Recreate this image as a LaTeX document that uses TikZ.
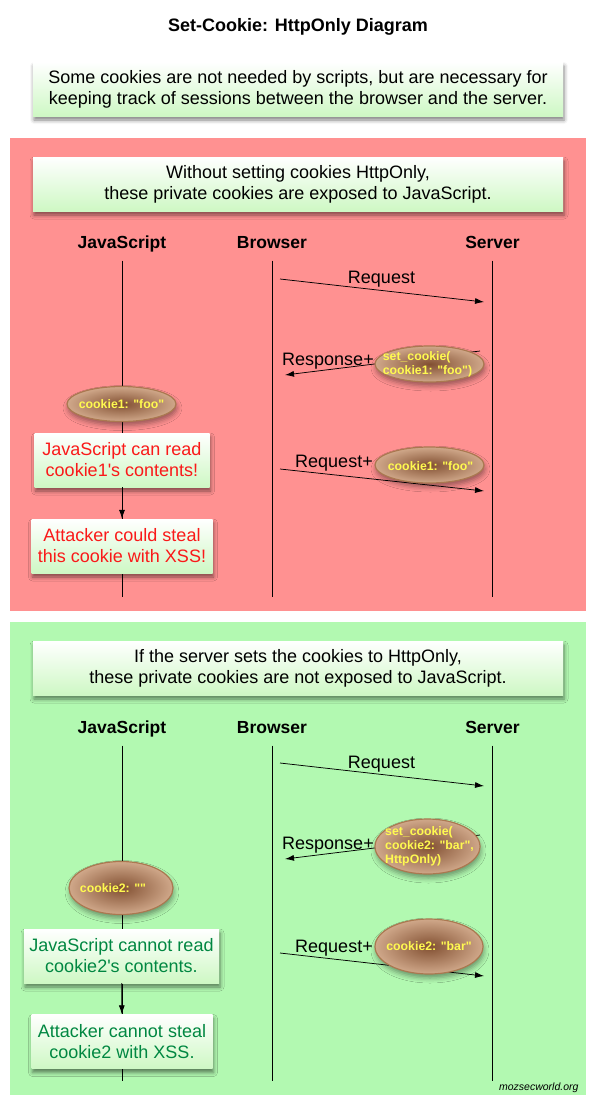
\documentclass[tikz,border=0pt]{standalone}
\usepackage{fontspec}
\setmainfont{Liberation Sans}[Ligatures=TeXOff]
\usetikzlibrary{shapes,arrows.meta,positioning,calc,shadows,shadows.blur}

\definecolor{panelred}{RGB}{255,145,145}
\definecolor{panelgreen}{RGB}{178,249,177}
\definecolor{notegreen}{RGB}{206,248,196}
\definecolor{cookiein}{RGB}{130,80,50}
\definecolor{cookieout}{RGB}{208,168,138}
\definecolor{cookieline}{RGB}{170,120,80}
\definecolor{cookietext}{RGB}{255,250,80}
\definecolor{badred}{RGB}{250,25,25}
\definecolor{goodgreen}{RGB}{0,135,65}

\tikzset{
  note/.style={top color=white, bottom color=notegreen, minimum height=54pt, inner sep=0pt,
    align=center, font=\fontsize{18}{21}\selectfont,
    blur shadow={shadow xshift=1pt, shadow yshift=-4pt, shadow blur radius=4pt, shadow opacity=50}},
  cookie/.style={ellipse, draw=cookieline, line width=1.2pt, inner color=cookiein, outer color=cookieout,
    inner sep=0pt, blur shadow={shadow xshift=1pt, shadow yshift=-4pt, shadow blur radius=5pt, shadow opacity=40}},
  cookietxt/.style={text=cookietext, align=left, inner sep=0pt, font=\bfseries\fontsize{12.3}{14}\selectfont},
  actor/.style={font=\bfseries\fontsize{17.5}{20}\selectfont, anchor=base, text depth=4pt},
  lbl/.style={font=\fontsize{18}{21}\selectfont},
  life/.style={line width=0.75pt, shorten <=5pt},
  msg/.style={line width=0.75pt, -{Latex[length=9pt,width=6pt]}},
}

\begin{document}
\begin{tikzpicture}[x=1pt,y=-1pt]
\useasboundingbox (0,0) rectangle (598,1106);

\node[font=\bfseries\fontsize{18}{21}\selectfont] (title) at (298,27) {Set-Cookie: HttpOnly Diagram};
\node[note, minimum width=530pt] (intro) at (298,89) {Some cookies are not needed by scripts, but are necessary for\\keeping track of sessions between the browser and the server.};

% without HttpOnly
\fill[panelred] (10,138) rectangle (586,611);
\node[note, minimum width=530pt] (warnA) at (298,184) {Without setting cookies HttpOnly,\\these private cookies are exposed to JavaScript.};
\node[actor] (jsA) at (122,248) {JavaScript};
\node[actor] (brA) at (272,248) {Browser};
\node[actor] (svA) at (492.5,248) {Server};
\coordinate (jsAend) at (122,597);
\coordinate (brAend) at (272,597);
\coordinate (svAend) at (492.5,597);
\draw[life] (jsA) -- (jsAend);
\draw[life] (brA) -- (brAend);
\draw[life] (svA) -- (svAend);

\coordinate (reqAfrom) at (280,279);
\coordinate (reqAto) at (484,302);
\coordinate (rspAfrom) at (480,351);
\coordinate (rspAto) at (285,375);
\coordinate (sendAfrom) at (280,469);
\coordinate (sendAto) at (484,491);
\draw[msg] (reqAfrom) -- (reqAto);
\draw[msg] (rspAfrom) -- (rspAto);
\draw[msg] (sendAfrom) -- (sendAto);
\node[lbl] (reqAlbl) at (381.5,279) {Request};
\node[lbl] (rspAlbl) at (328,361) {Response+};
\node[lbl] (sendAlbl) at (334,463) {Request+};

\node[cookie, minimum width=109pt, minimum height=36pt] (setA) at (429.5,364) {};
\node[cookietxt] at (setA) [xshift=-2pt] {set\_cookie(\\cookie1: "foo")};
\node[cookie, minimum width=109pt, minimum height=36pt] (sendA) at (429.5,465) {};
\node[cookietxt] at (sendA) [xshift=1pt, yshift=-1pt] {cookie1: "foo"};
\node[cookie, minimum width=109pt, minimum height=35pt] (readA) at (121.5,404) {};
\node[cookietxt] at (readA) {cookie1: "foo"};

\node[note, minimum width=175pt, text=badred] (canA) at (122,460) {JavaScript can read\\cookie1\textquotesingle s contents!};
\node[note, minimum width=181pt, text=badred] (stealA) at (122,546) {Attacker could steal\\this cookie with XSS!};
\draw[msg] (canA) -- (stealA);

% with HttpOnly
\fill[panelgreen] (10,622) rectangle (586,1095);
\node[note, minimum width=530pt] (warnB) at (298,668) {If the server sets the cookies to HttpOnly,\\these private cookies are not exposed to JavaScript.};
\node[actor] (jsB) at (122,733) {JavaScript};
\node[actor] (brB) at (272,733) {Browser};
\node[actor] (svB) at (492.5,733) {Server};
\coordinate (jsBend) at (122,1081);
\coordinate (brBend) at (272,1081);
\coordinate (svBend) at (492.5,1081);
\draw[life] (jsB) -- (jsBend);
\draw[life] (brB) -- (brBend);
\draw[life] (svB) -- (svBend);

\coordinate (reqBfrom) at (280,763);
\coordinate (reqBto) at (484,786);
\coordinate (rspBfrom) at (480,835);
\coordinate (rspBto) at (285,859);
\coordinate (sendBfrom) at (280,953);
\coordinate (sendBto) at (484,976);
\draw[msg] (reqBfrom) -- (reqBto);
\draw[msg] (rspBfrom) -- (rspBto);
\draw[msg] (sendBfrom) -- (sendBto);
\node[lbl] (reqBlbl) at (381.5,764) {Request};
\node[lbl] (rspBlbl) at (328,845) {Response+};
\node[lbl] (sendBlbl) at (334,948) {Request+};

\node[cookie, minimum width=105pt, minimum height=55pt] (setB) at (427.5,846.5) {};
\node[cookietxt] at (setB) [xshift=2pt] {set\_cookie(\\cookie2: "bar",\\HttpOnly)};
\node[cookie, minimum width=108pt, minimum height=55pt] (sendB) at (429,946.5) {};
\node[cookietxt] at (sendB) {cookie2: "bar"};
\node[cookie, minimum width=104pt, minimum height=53pt] (readB) at (121,888) {};
\node[cookietxt] at (readB) [xshift=-8pt] {cookie2: ""};

\node[note, minimum width=195pt, text=goodgreen] (canB) at (121.5,956) {JavaScript cannot read\\cookie2\textquotesingle s contents.};
\node[note, minimum width=181pt, text=goodgreen] (stealB) at (122,1041.5) {Attacker cannot steal\\cookie2 with XSS.};
\draw[msg] (canB) -- (stealB);

\node[anchor=base east, font=\itshape\fontsize{10.5}{12}\selectfont] (site) at (582,1090) {mozsecworld.org};
\end{tikzpicture}
\end{document}
